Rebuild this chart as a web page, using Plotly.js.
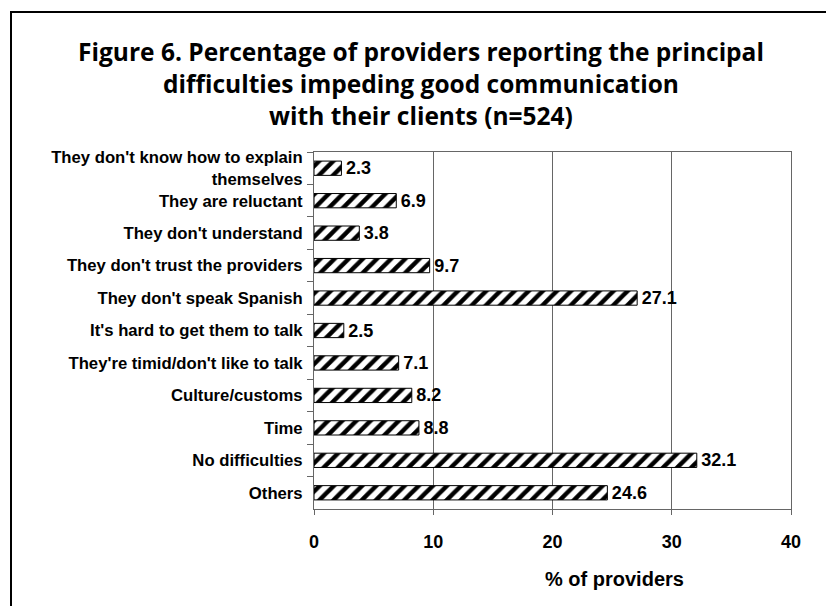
<!DOCTYPE html>
<html>
<head>
<meta charset="utf-8">
<script src="https://cdn.plot.ly/plotly-3.0.1.min.js"></script>
<style>
  html, body { margin: 0; padding: 0; background: #ffffff; }
  #chart { width: 826px; height: 606px; }
</style>
</head>
<body>
<div id="chart"></div>
<script>
// Data (top to bottom)
const categories = [
  "They don't know how to explain<br>themselves",
  "They are reluctant",
  "They don't understand",
  "They don't trust the providers",
  "They don't speak Spanish",
  "It's hard to get them to talk",
  "They're timid/don't like to talk",
  "Culture/customs",
  "Time",
  "No difficulties",
  "Others"
];
const percentages = [2.3, 6.9, 3.8, 9.7, 27.1, 2.5, 7.1, 8.2, 8.8, 32.1, 24.6];
const xTickValues = [0, 10, 20, 30, 40];

const titleText = "Figure 6. Percentage of providers reporting the principal<br>difficulties impeding good communication<br>with their clients (n=524)";
const xAxisTitle = "% of providers";

const FONT = 'Arial, Liberation Sans, sans-serif';

const trace = {
  type: 'bar',
  orientation: 'h',
  y: categories,
  x: percentages,
  marker: {
    color: '#ffffff',
    line: { color: '#000000', width: 1 },
    pattern: { shape: '/', fgcolor: '#000000', bgcolor: '#ffffff', size: 10, solidity: 0.45 }
  },
  text: percentages.map(v => '\u200A' + v.toFixed(1)),
  textposition: 'outside',
  textfont: { family: FONT, size: 18, color: '#000000', weight: 'bold' },
  constraintext: 'none',
  cliponaxis: false,
  hoverinfo: 'x+y'
};

const L = 314, R = 791, T = 152, B = 509;
function px2x(p) { return (p - L) / (R - L); }
function py2y(p) { return (B - p) / (B - T); }

const layout = {
  width: 826,
  height: 606,
  paper_bgcolor: '#ffffff',
  plot_bgcolor: '#ffffff',
  margin: { l: L, r: 826 - R, t: T, b: 606 - B, pad: 0 },
  showlegend: false,
  bargap: 0.56,
  font: { family: FONT, color: '#000000' },
  title: {
    text: titleText,
    font: { family: 'Open Sans, sans-serif', size: 24.5, color: '#000000', weight: 'bold' },
    x: 421 / 826,
    xanchor: 'center',
    xref: 'container',
    y: 1 - 61 / 606,
    yanchor: 'top',
    yref: 'container'
  },
  xaxis: {
    range: [0, 40],
    tickvals: xTickValues,
    ticktext: xTickValues.map(String),
    ticks: 'outside',
    ticklen: 5,
    tickcolor: '#666666',
    tickfont: { family: FONT, size: 18, color: '#000000', weight: 'bold' },
    ticklabelstandoff: 11,
    showline: true,
    linecolor: '#666666',
    linewidth: 1,
    mirror: true,
    showgrid: true,
    gridcolor: '#666666',
    gridwidth: 1,
    zeroline: false,
    fixedrange: true
  },
  yaxis: {
    type: 'category',
    autorange: 'reversed',
    ticks: 'outside',
    tickson: 'boundaries',
    ticklen: 6,
    tickcolor: '#666666',
    tickfont: { family: FONT, size: 16.7, color: '#000000', weight: 'bold' },
    ticklabelstandoff: 7,
    showline: true,
    linecolor: '#666666',
    linewidth: 1,
    mirror: true,
    showgrid: false,
    zeroline: false,
    fixedrange: true
  },
  annotations: [
    {
      text: xAxisTitle,
      xref: 'paper', yref: 'paper',
      x: px2x(614), y: py2y(579),
      xanchor: 'center', yanchor: 'middle',
      showarrow: false,
      font: { family: FONT, size: 20, color: '#000000', weight: 'bold' }
    }
  ],
  shapes: [
    { type: 'line', xref: 'paper', yref: 'paper', x0: px2x(11), x1: px2x(11), y0: py2y(11), y1: py2y(620), line: { color: '#000000', width: 2 } },
    { type: 'line', xref: 'paper', yref: 'paper', x0: px2x(10), x1: px2x(840), y0: py2y(12), y1: py2y(12), line: { color: '#000000', width: 2 } }
  ]
};

Plotly.newPlot('chart', [trace], layout, { displayModeBar: false, staticPlot: true });
</script>
</body>
</html>
